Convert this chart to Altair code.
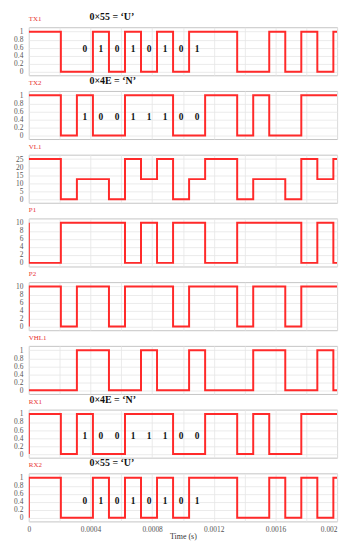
import altair as alt
import pandas as pd

# ---- data ----
BIT_T = 0.000104          # one bit period (s)
T_END = 0.002             # end of time axis (s)

names = ["TX1", "TX2", "VL1", "P1", "P2", "VHL1", "RX1", "RX2"]

# level held during each bit period k = 0..19 (last one runs to T_END)
tx1 = [1, 1, 0, 0, 1, 0, 1, 0, 1, 0, 1, 1, 1, 0, 0, 1, 0, 1, 0, 1]
tx2 = [1, 1, 0, 1, 0, 0, 1, 1, 1, 0, 0, 1, 1, 0, 1, 0, 0, 1, 1, 1]
vl1 = [25, 25, 0, 12.5, 12.5, 0, 25, 12.5, 25, 0, 12.5, 25, 25, 0, 12.5, 12.5, 0, 25, 12.5, 25]
p1 = [0, 0, 10, 10, 10, 10, 0, 10, 0, 10, 10, 0, 0, 10, 10, 10, 10, 0, 10, 0]
p2 = [10, 10, 0, 10, 10, 0, 10, 10, 10, 0, 10, 10, 10, 0, 10, 10, 0, 10, 10, 10]
vhl1 = [0, 0, 0, 1, 1, 0, 0, 1, 0, 0, 1, 0, 0, 0, 1, 1, 0, 0, 1, 0]
rx1 = [1, 1, 0, 1, 0, 0, 1, 1, 1, 0, 0, 1, 1, 0, 1, 0, 0, 1, 1, 1]
rx2 = [1, 1, 0, 0, 1, 0, 1, 0, 1, 0, 1, 1, 1, 0, 0, 1, 0, 1, 0, 1]
levels = [tx1, tx2, vl1, p1, p2, vhl1, rx1, rx2]

# value at t = 0 before the first level (initial edge), None if none
start_vals = [None, None, None, 10, 0, None, 0, 0]

y_max = [1, 1, 25, 10, 10, 1, 1, 1]
y_ticks = {
    1: [0, 0.2, 0.4, 0.6, 0.8, 1],
    25: [0, 5, 10, 15, 20, 25],
    10: [0, 2, 4, 6, 8, 10],
}

# annotation text
titles = ["0×55 = ‘U’", "0×4E = ‘N’", None, None, None, None, "0×4E = ‘N’", "0×55 = ‘U’"]
title_x = 0.0004
bits_u = ["0", "1", "0", "1", "0", "1", "0", "1"]
bits_n = ["1", "0", "0", "1", "1", "1", "0", "0"]
bit_sets = [bits_u, bits_n, None, None, None, None, bits_n, bits_u]
bit_y = [0.57, 0.45, None, None, None, None, 0.45, 0.42]
first_bit = 3

x_grid = [round(0.0002 * i, 4) for i in range(11)]

RED = "#ff2a2a"
SERIF = "Liberation Serif"

W = 311
H = 48.5


def panel(i):
    name = names[i]
    lv = levels[i]
    rows = []
    if start_vals[i] is not None:
        rows.append({"t": 0.0, "v": start_vals[i]})
    for k, v in enumerate(lv):
        rows.append({"t": k * BIT_T, "v": v})
    rows.append({"t": T_END, "v": lv[-1]})
    for j, r in enumerate(rows):
        r["i"] = j
    df = pd.DataFrame(rows)

    ym = y_max[i]
    ydom = [-0.09 * ym, 1.11 * ym]
    last = i == len(names) - 1

    if last:
        xaxis = alt.Axis(
            values=x_grid,
            labelExpr="round(datum.value*10000) % 4 == 0 ? format(datum.value, '~r') : ''",
            labelAlign={"condition": {"test": "datum.value > 0.0019", "value": "right"}, "value": "center"},
            title="Time (s)",
            titleFont=SERIF,
            titleFontSize=8,
            titleFontWeight="normal",
            titleColor="#333",
            titlePadding=0,
            labelPadding=4,
            grid=True,
        )
    else:
        xaxis = alt.Axis(values=x_grid, labels=False, title=None, grid=True)

    x = alt.X("t:Q", scale=alt.Scale(domain=[0, T_END], nice=False, zero=False), axis=xaxis)
    y = alt.Y(
        "v:Q",
        scale=alt.Scale(domain=ydom, nice=False, zero=False),
        axis=alt.Axis(values=y_ticks[ym], format="~r", title=None, labelPadding=6, grid=True),
    )

    line = alt.Chart(df).mark_line(
        interpolate="step-after", color=RED, strokeWidth=2, clip=True
    ).encode(x=x, y=y, order=alt.Order("i:Q"))

    layers = [line]

    lab = alt.Chart(alt.Data(values=[{"lab": name}])).mark_text(
        align="left", baseline="middle", font=SERIF, fontSize=7, color="#e83030"
    ).encode(x=alt.value(0), y=alt.value(-8), text="lab:N")
    layers.append(lab)

    if titles[i]:
        tt = alt.Chart(alt.Data(values=[{"t": title_x, "txt": titles[i]}])).mark_text(
            align="left", baseline="middle", font=SERIF, fontSize=10, fontWeight="bold",
            color="#111", dx=-1
        ).encode(x=x, y=alt.value(-10), text="txt:N")
        layers.append(tt)

    if bit_sets[i]:
        brow = [
            {"t": (first_bit + k + 0.5) * BIT_T, "v": bit_y[i], "b": b}
            for k, b in enumerate(bit_sets[i])
        ]
        bt = alt.Chart(pd.DataFrame(brow)).mark_text(
            align="center", baseline="middle", font=SERIF, fontSize=9.5, fontWeight="bold",
            color="#111"
        ).encode(x=x, y=y, text="b:N")
        layers.append(bt)

    return alt.layer(*layers).properties(width=W, height=H)


chart = alt.vconcat(*[panel(i) for i in range(len(names))], spacing=15.3, bounds="flush").properties(
    padding={"left": 5, "top": 1, "right": 5, "bottom": 0}
).configure_view(
    stroke="#c4c4c4", strokeWidth=1
).configure_axis(
    domain=False,
    ticks=False,
    gridColor="#e6e6e6",
    gridWidth=0.8,
    labelFont=SERIF,
    labelFontSize=7.5,
    labelColor="#555",
)

chart.save("out.html", embed_options={"renderer": "svg", "actions": False})
